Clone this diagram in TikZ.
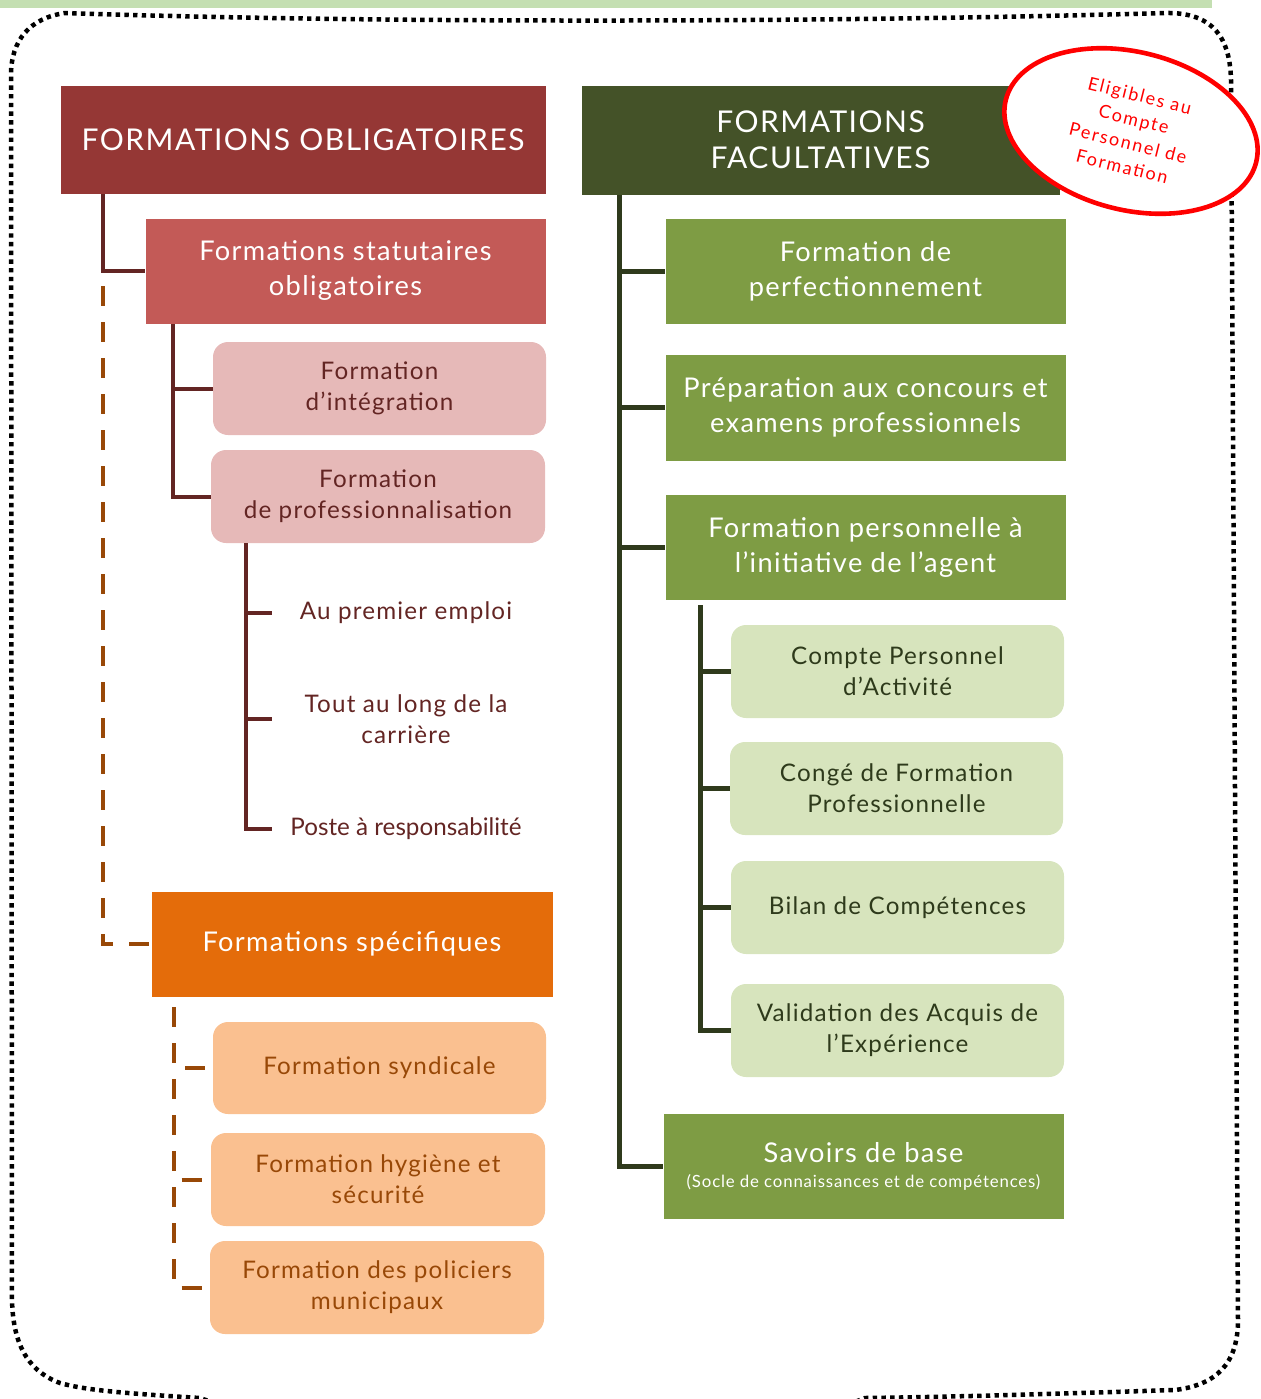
\documentclass[tikz,border=0pt]{standalone}
\usepackage{fontspec}
\setmainfont{Lato}[LetterSpace=5]
\usetikzlibrary{calc,shapes.geometric}
\definecolor{cTop}{HTML}{C4DFB2}
\definecolor{cB1}{HTML}{953735}
\definecolor{cB2}{HTML}{C35A57}
\definecolor{cB3}{HTML}{E6B9B8}
\definecolor{cB3t}{HTML}{632523}
\definecolor{cB5}{HTML}{E46C0A}
\definecolor{cB6}{HTML}{FAC090}
\definecolor{cB6t}{HTML}{984807}
\definecolor{cG1}{HTML}{445228}
\definecolor{cG2}{HTML}{7E9C44}
\definecolor{cL}{HTML}{D7E4BD}
\definecolor{cLt}{HTML}{2E3A1B}
\definecolor{cLineL}{HTML}{632523}
\definecolor{cDash}{HTML}{984807}
\definecolor{cLineR}{HTML}{2F3A1C}
\definecolor{cRed}{HTML}{FF0000}
\newcommand\FtCaps{\fontsize{15}{18}\selectfont}
\newcommand\FtBig{\fontsize{13.6}{17.5}\selectfont}
\newcommand\FtSmall{\fontsize{12.1}{15.5}\selectfont}
\newcommand\FtNote{\fontsize{8.4}{10}\selectfont}
\newcommand\FtEll{\addfontfeature{LetterSpace=10}\fontsize{9}{12.2}\selectfont}
\newcommand\mybox[7]{%
  \node[#6, minimum width={(#4-#2)*0.5pt}, minimum height={(#5-#3)*0.5pt}]
    (#1) at ({(#2+#4)/2},{(#3+#5)/2}) {#7};}
\begin{document}
\begin{tikzpicture}[x=0.5pt,y=-0.5pt,
  every node/.style={inner sep=0pt, outer sep=0pt, align=center},
  sqbox/.style={rectangle, draw=white, line width=0.5pt, text=white},
  rdbox/.style={rectangle, rounded corners=7.5pt, font=\FtSmall},
  darkred/.style={sqbox, fill=cB1, font=\FtCaps},
  midred/.style={sqbox, fill=cB2, font=\FtBig},
  pinkbox/.style={rdbox, fill=cB3, text=cB3t},
  orangebox/.style={sqbox, fill=cB5, font=\FtBig},
  peachbox/.style={rdbox, fill=cB6, text=cB6t},
  darkgreen/.style={sqbox, fill=cG1, font=\FtCaps},
  midgreen/.style={sqbox, fill=cG2, font=\FtBig},
  lightgreen/.style={rdbox, fill=cL, text=cLt},
  itemtxt/.style={text=cB3t, font=\FtSmall, minimum width=134pt},
  conL/.style={draw=cLineL, line width=2pt},
  dashL/.style={draw=cDash, line width=2pt, dash pattern=on 10pt off 8pt},
  conR/.style={draw=cLineR, line width=2.5pt},
  border/.style={draw=black, line width=2.25pt, dash pattern=on 2.2pt off 2.15pt}
]
\useasboundingbox (0,0) rectangle (1260,1399);
\fill[cTop] (0,0) rectangle (1212,8);
% dotted frame
\draw[border] (240,1412) -- (200,1398)
  .. controls (120,1393) and (85,1390) .. (60,1383)
  .. controls (25,1370) and (13,1340) .. (12,1300)
  -- (11,75)
  .. controls (11,40) and (30,18) .. (65,13)
  .. controls (400,24) and (850,22) .. (1165,13)
  .. controls (1215,12) and (1230,40) .. (1231,80)
  -- (1238,1320)
  .. controls (1238,1365) and (1215,1385) .. (1175,1390)
  .. controls (1050,1394) and (950,1397) .. (865,1398)
  -- (830,1412);
% left column
\mybox{B1}{60}{85}{546}{194}{darkred}{FORMATIONS OBLIGATOIRES}
\mybox{B2}{145}{218}{546}{324}{midred}{Formations statutaires\\obligatoires}
\mybox{B3}{213}{342}{546}{435}{pinkbox}{Formation\\d’intégration}
\mybox{B4}{211}{450}{545}{543}{pinkbox}{Formation\\de professionnalisation}
\node[itemtxt] (t1) at (406,613) {Au premier emploi};
\node[itemtxt] (t2) at (406,719) {Tout au long de la\\carrière};
\node[itemtxt, font=\addfontfeature{LetterSpace=0}\FtSmall] (t3) at (406,829) {Poste à responsabilité};
\mybox{B5}{151}{891}{553}{997}{orangebox}{Formations spécifiques}
\mybox{B6}{213}{1022}{546}{1114}{peachbox}{Formation syndicale}
\mybox{B7}{211}{1133}{545}{1226}{peachbox}{Formation hygiène et\\sécurité}
\mybox{B8}{210}{1241}{544}{1334}{peachbox}{Formation des policiers\\municipaux}
% right column
\mybox{G1}{581}{85}{1060}{195}{darkgreen}{FORMATIONS\\FACULTATIVES}
\mybox{G2}{665}{218}{1066}{324}{midgreen}{Formation de\\perfectionnement}
\mybox{G3}{665}{354}{1066}{461}{midgreen}{Préparation aux concours et\\examens professionnels}
\mybox{G4}{665}{494}{1066}{600}{midgreen}{Formation personnelle à\\l’initiative de l’agent}
\mybox{L1}{731}{625}{1064}{718}{lightgreen}{Compte Personnel\\d’Activité}
\mybox{L2}{730}{742}{1063}{835}{lightgreen}{Congé de Formation\\Professionnelle}
\mybox{L3}{731}{861}{1064}{954}{lightgreen}{Bilan de Compétences}
\mybox{L4}{731}{984}{1064}{1077}{lightgreen}{Validation des Acquis de\\l’Expérience}
\mybox{G5}{663}{1113}{1064}{1219}{midgreen}{Savoirs de base\\[-5pt]{\FtNote (Socle de connaissances et de compétences)}}
% left connectors
\coordinate (l1) at ($(B1.south west)+(43,0)$);
\draw[conL] (l1) |- (B2.west);
\coordinate (l2) at ($(B2.south west)+(28,0)$);
\draw[conL] (l2) |- (B3.west);
\draw[conL] (l2) |- (B4.west);
\coordinate (l3) at ($(B4.south west)+(35,0)$);
\draw[conL] (l3) |- (t1.west);
\draw[conL] (l3) |- (t2.west);
\draw[conL] (l3) |- (t3.west);
\coordinate (d1) at ($(B1.south west)+(43,92)$);
\draw[dashL] (d1) |- (B5.west);
\coordinate (d2) at ($(B5.south west)+(23,10)$);
\draw[dashL] (d2) |- (B6.west);
\draw[dashL] (d2) |- (B7.west);
\draw[dashL] (d2) |- (B8.west);
% right connectors
\coordinate (r1) at ($(G1.south west)+(38,0)$);
\draw[conR] (r1) |- (G2.west);
\draw[conR] (r1) |- (G3.west);
\draw[conR] (r1) |- (G4.west);
\draw[conR] (r1) |- (G5.west);
\coordinate (r2) at ($(G4.south west)+(35,5)$);
\draw[conR] (r2) |- (L1.west);
\draw[conR] (r2) |- (L2.west);
\draw[conR] (r2) |- (L3.west);
\draw[conR] (r2) |- (L4.west);
% CPF ellipse
\node[ellipse, draw=cRed, line width=2.3pt, fill=white, text=cRed, font=\FtEll,
  minimum width=129pt, minimum height=79pt, rotate=-14] (cpf) at (1131,131)
  {Eligibles au\\Compte\\Personnel de\\Formation};
\end{tikzpicture}
\end{document}
